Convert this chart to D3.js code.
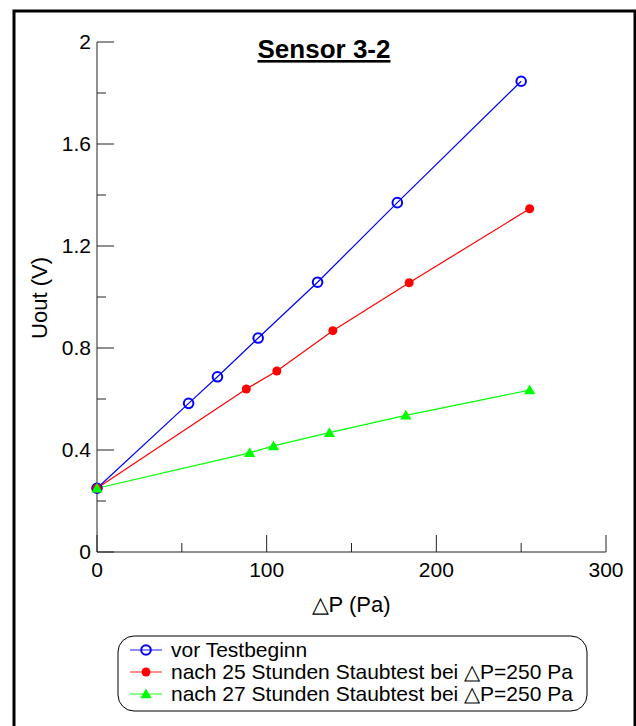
<!DOCTYPE html>
<html lang="de">
<head>
<meta charset="UTF-8">
<title>Sensor 3-2</title>
<script src="https://cdnjs.cloudflare.com/ajax/libs/d3/7.8.5/d3.min.js"></script>
<style>
  body { margin: 0; background: #fff; font-family: "Liberation Sans", Arial, sans-serif; }
  svg text { fill: #000; }
  .axis-line { stroke: #222; stroke-width: 1; }
</style>
</head>
<body>
<svg id="chart" width="636" height="726"></svg>
<script>
// --- Data ---
const seriesNames = ["vor Testbeginn",
  "nach 25 Stunden Staubtest bei \u25B3P=250 Pa",
  "nach 27 Stunden Staubtest bei \u25B3P=250 Pa"];
const blueX = [0, 54, 71, 95, 130, 177, 250];
const blueY = [0.25, 0.583, 0.687, 0.839, 1.058, 1.370, 1.846];
const redX = [0, 88, 106, 139, 184, 255];
const redY = [0.25, 0.639, 0.710, 0.868, 1.056, 1.346];
const greenX = [0, 90, 104, 137, 182, 255];
const greenY = [0.25, 0.389, 0.416, 0.468, 0.536, 0.635];
const xMajor = [0, 100, 200, 300];
const xMinor = [50, 150, 250];
const yMajor = [0, 0.4, 0.8, 1.2, 1.6, 2];
const yMinor = [0.2, 0.6, 1.0, 1.4, 1.8];
const yLabels = ["0", "0.4", "0.8", "1.2", "1.6", "2"];

const svg = d3.select("#chart");

// outer frame
svg.append("rect")
  .attr("x", 14).attr("y", 11)
  .attr("width", 621).attr("height", 800)
  .attr("fill", "none").attr("stroke", "#000").attr("stroke-width", 3);

const x = d3.scaleLinear().domain([0, 300]).range([97, 606]);
const y = d3.scaleLinear().domain([0, 2]).range([552, 42]);

// title
svg.append("text")
  .attr("x", 324).attr("y", 58)
  .attr("text-anchor", "middle")
  .style("font-size", "26px").style("font-weight", "bold")
  .style("text-decoration", "underline")
  .text("Sensor 3-2");

// --- axes (ticks point inward) ---
const g = svg.append("g");
g.append("line").attr("class", "axis-line")
  .attr("x1", x(0)).attr("x2", x(0)).attr("y1", y(2)).attr("y2", y(0));
g.append("line").attr("class", "axis-line")
  .attr("x1", x(0)).attr("x2", x(300)).attr("y1", y(0)).attr("y2", y(0));

g.selectAll(".ymaj").data(yMajor).join("line").attr("class", "axis-line ymaj")
  .attr("x1", x(0)).attr("x2", x(0) + 17)
  .attr("y1", d => y(d)).attr("y2", d => y(d));
g.selectAll(".ymin").data(yMinor).join("line").attr("class", "axis-line ymin")
  .attr("x1", x(0)).attr("x2", x(0) + 9)
  .attr("y1", d => y(d)).attr("y2", d => y(d));
g.selectAll(".xmaj").data(xMajor).join("line").attr("class", "axis-line xmaj")
  .attr("x1", d => x(d)).attr("x2", d => x(d))
  .attr("y1", y(0)).attr("y2", y(0) - 17);
g.selectAll(".xmin").data(xMinor).join("line").attr("class", "axis-line xmin")
  .attr("x1", d => x(d)).attr("x2", d => x(d))
  .attr("y1", y(0)).attr("y2", y(0) - 9);

g.selectAll(".ylab").data(yMajor).join("text").attr("class", "ylab")
  .attr("x", x(0) - 6).attr("y", d => y(d) + 7)
  .attr("text-anchor", "end").style("font-size", "21px")
  .text((d, i) => yLabels[i]);
g.selectAll(".xlab").data(xMajor).join("text").attr("class", "xlab")
  .attr("x", d => x(d)).attr("y", y(0) + 25)
  .attr("text-anchor", "middle").style("font-size", "21px")
  .text(d => d);

svg.append("text")
  .attr("transform", "translate(47,298) rotate(-90)")
  .attr("text-anchor", "middle").style("font-size", "22px")
  .text("Uout (V)");
svg.append("text")
  .attr("x", 351).attr("y", 612)
  .attr("text-anchor", "middle").style("font-size", "22px")
  .text("\u25B3P (Pa)");

// --- series ---
const series = [
  { xs: blueX, ys: blueY, color: "#0000ff", shape: "open" },
  { xs: redX, ys: redY, color: "#ff0000", shape: "dot" },
  { xs: greenX, ys: greenY, color: "#00ff00", shape: "tri" }
];

const line = d3.line().x(d => x(d[0])).y(d => y(d[1]));
const tri = d3.symbol().type(d3.symbolTriangle).size(55);

function marker(sel, s, cx, cy) {
  if (s.shape === "open") {
    sel.append("circle").attr("cx", cx).attr("cy", cy).attr("r", 4.8)
      .attr("fill", "none").attr("stroke", s.color).attr("stroke-width", 2);
  } else if (s.shape === "dot") {
    sel.append("circle").attr("cx", cx).attr("cy", cy).attr("r", 4.5)
      .attr("fill", s.color);
  } else {
    sel.append("path").attr("d", tri)
      .attr("transform", `translate(${cx},${cy + 1})`).attr("fill", s.color);
  }
}

series.forEach(s => {
  const pts = s.xs.map((v, i) => [v, s.ys[i]]);
  svg.append("path").datum(pts).attr("d", line)
    .attr("fill", "none").attr("stroke", s.color).attr("stroke-width", 1.2);
});
series.forEach(s => {
  const mg = svg.append("g");
  s.xs.forEach((v, i) => marker(mg, s, x(v), y(s.ys[i])));
});

// --- legend ---
const leg = svg.append("g");
leg.append("rect")
  .attr("x", 118).attr("y", 636).attr("width", 469).attr("height", 75)
  .attr("rx", 16).attr("ry", 16)
  .attr("fill", "#fff").attr("stroke", "#000").attr("stroke-width", 1);
series.forEach((s, i) => {
  const ly = 650 + i * 22;
  leg.append("line").attr("x1", 130).attr("x2", 162).attr("y1", ly).attr("y2", ly)
    .attr("stroke", s.color).attr("stroke-width", 1.2).attr("opacity", 0.75);
  marker(leg, s, 146, ly);
  leg.append("text").attr("x", 171).attr("y", ly + 7)
    .style("font-size", "21px").text(seriesNames[i]);
});
</script>
</body>
</html>
